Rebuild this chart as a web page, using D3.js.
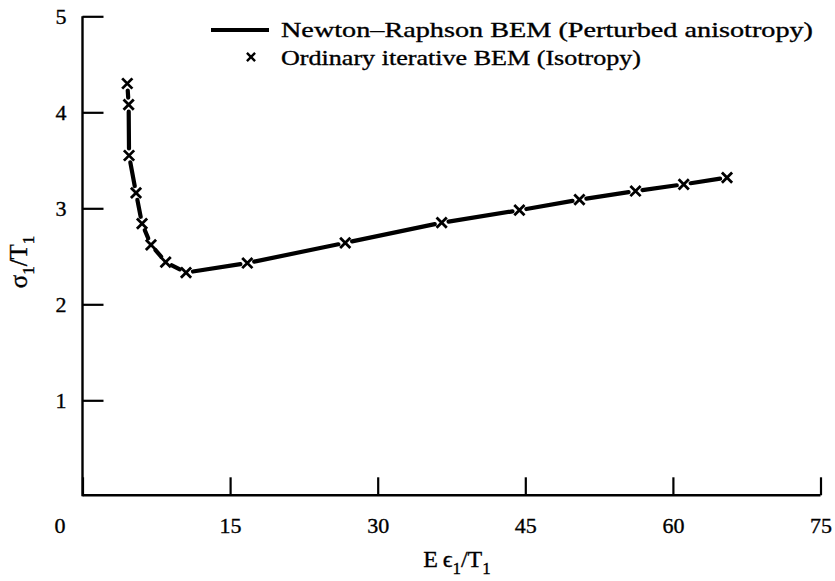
<!DOCTYPE html>
<html>
<head>
<meta charset="utf-8">
<script src="https://cdn.jsdelivr.net/npm/d3@7"></script>
<style>
  body { margin: 0; background: #fff; }
  text { font-family: "Liberation Serif", "Times New Roman", serif; fill: #000; stroke: #000; stroke-width: 0.35px; }
</style>
</head>
<body>
<div id="chart"></div>
<script>
// Newton-Raphson BEM curve (perturbed anisotropy)
const nrX = [4.55, 4.69, 4.73, 5.44, 6.05, 6.96, 8.45, 10.52, 16.75, 26.7, 36.5, 44.4, 50.5, 56.2, 61.1, 65.5];
const nrY = [4.30, 4.08, 3.55, 3.16, 2.84, 2.62, 2.44, 2.33, 2.43, 2.64, 2.85, 2.98, 3.09, 3.18, 3.25, 3.32];
// Ordinary iterative BEM points (isotropy)
const isoX = [4.55, 4.69, 4.73, 5.44, 6.05, 6.96, 8.45, 10.52, 16.75, 26.7, 36.5, 44.4, 50.5, 56.2, 61.1, 65.5];
const isoY = [4.30, 4.08, 3.55, 3.16, 2.84, 2.62, 2.44, 2.33, 2.43, 2.64, 2.85, 2.98, 3.09, 3.18, 3.25, 3.32];

const xTicks = [0, 15, 30, 45, 60, 75];
const yTicks = [1, 2, 3, 4, 5];
const legendLabels = ["Newton\u2013Raphson BEM (Perturbed anisotropy)", "Ordinary iterative BEM (Isotropy)"];

const W = 835, H = 581;
const svg = d3.select("#chart").append("svg")
    .attr("width", W)
    .attr("height", H);

const x = d3.scaleLinear().domain([0, 75]).range([82.5, 820.5]);
const y = d3.scaleLinear().domain([0, 5]).range([496.3, 16.3]);

// axes, ticks pointing inward
const xAxis = svg.append("g")
    .attr("transform", `translate(0,${y(0) - 1})`)
    .call(d3.axisBottom(x).tickValues(xTicks).tickFormat(d3.format("d"))
        .tickSize(-18).tickSizeOuter(0).tickPadding(22));
const yAxis = svg.append("g")
    .attr("transform", `translate(${x(0)},0)`)
    .call(d3.axisLeft(y).tickValues(yTicks).tickFormat(d3.format("d"))
        .tickSize(-21).tickSizeOuter(0).tickPadding(16));

[xAxis, yAxis].forEach(g => {
    g.select(".domain").attr("stroke", "#000").attr("stroke-width", 2.4);
    g.selectAll(".tick line").attr("stroke", "#000").attr("stroke-width", 2.2);
    g.selectAll(".tick text")
        .attr("font-size", 22)
        .attr("font-family", "Liberation Serif, serif");
});
// the "0" label sits left of the corner
xAxis.selectAll(".tick text").filter(d => d === 0).attr("dx", -23);
xAxis.select(".domain").attr("d", `M${x(0)},0H${x(75)}`);
yAxis.select(".domain").attr("d", `M0,${y(5)}V${y(0)}`);

// axis titles
const yTitle = svg.append("text")
    .attr("transform", `translate(27,262) rotate(-90)`)
    .attr("text-anchor", "middle")
    .attr("font-size", 25);
yTitle.append("tspan").text("\u03c3");
yTitle.append("tspan").attr("font-size", 17).attr("dy", 7).text("1");
yTitle.append("tspan").attr("dy", -7).text("/T");
yTitle.append("tspan").attr("font-size", 17).attr("dy", 7).text("1");

const xTitle = svg.append("text")
    .attr("x", 457)
    .attr("y", 567)
    .attr("text-anchor", "middle")
    .attr("font-size", 24);
xTitle.append("tspan").text("E\u2009\u03f5");
xTitle.append("tspan").attr("font-size", 17).attr("dy", 7).text("1");
xTitle.append("tspan").attr("dy", -7).text("/T");
xTitle.append("tspan").attr("font-size", 17).attr("dy", 7).text("1");

// Newton-Raphson curve: segments broken around each marker
const pts = nrX.map((v, i) => [x(v), y(nrY[i])]);
const gap = 7;
const segs = [];
for (let i = 0; i < pts.length - 1; i++) {
    const [x0, y0] = pts[i], [x1, y1] = pts[i + 1];
    const len = Math.hypot(x1 - x0, y1 - y0);
    const ux = (x1 - x0) / len, uy = (y1 - y0) / len;
    segs.push([[x0 + ux * gap, y0 + uy * gap], [x1 - ux * gap, y1 - uy * gap]]);
}
svg.append("g")
    .selectAll("line")
    .data(segs)
    .enter()
    .append("line")
    .attr("x1", d => d[0][0])
    .attr("y1", d => d[0][1])
    .attr("x2", d => d[1][0])
    .attr("y2", d => d[1][1])
    .attr("stroke", "#000")
    .attr("stroke-width", 4.2)
    .attr("stroke-linecap", "round");

// isotropy markers
const cross = d3.symbol().type(d3.symbolX).size(70);
svg.append("g")
    .selectAll("path")
    .data(isoX)
    .enter()
    .append("path")
    .attr("d", cross)
    .attr("transform", (d, i) => `translate(${x(d)},${y(isoY[i])})`)
    .attr("stroke", "#000")
    .attr("stroke-width", 2.8)
    .attr("fill", "none");

// legend
const legend = svg.append("g");
legend.append("line")
    .attr("x1", 211).attr("x2", 269)
    .attr("y1", 30).attr("y2", 30)
    .attr("stroke", "#000")
    .attr("stroke-width", 4);
legend.append("path")
    .attr("d", d3.symbol().type(d3.symbolX).size(45))
    .attr("transform", "translate(251,57)")
    .attr("stroke", "#000")
    .attr("stroke-width", 2.4)
    .attr("fill", "none");
legend.selectAll("text.leg")
    .data(legendLabels)
    .enter()
    .append("text")
    .attr("class", "leg")
    .attr("x", 281)
    .attr("y", (d, i) => 37 + i * 28)
    .attr("font-size", 22)
    .attr("textLength", (d, i) => i === 0 ? 532 : 360)
    .attr("lengthAdjust", "spacingAndGlyphs")
    .text(d => d);
</script>
</body>
</html>
